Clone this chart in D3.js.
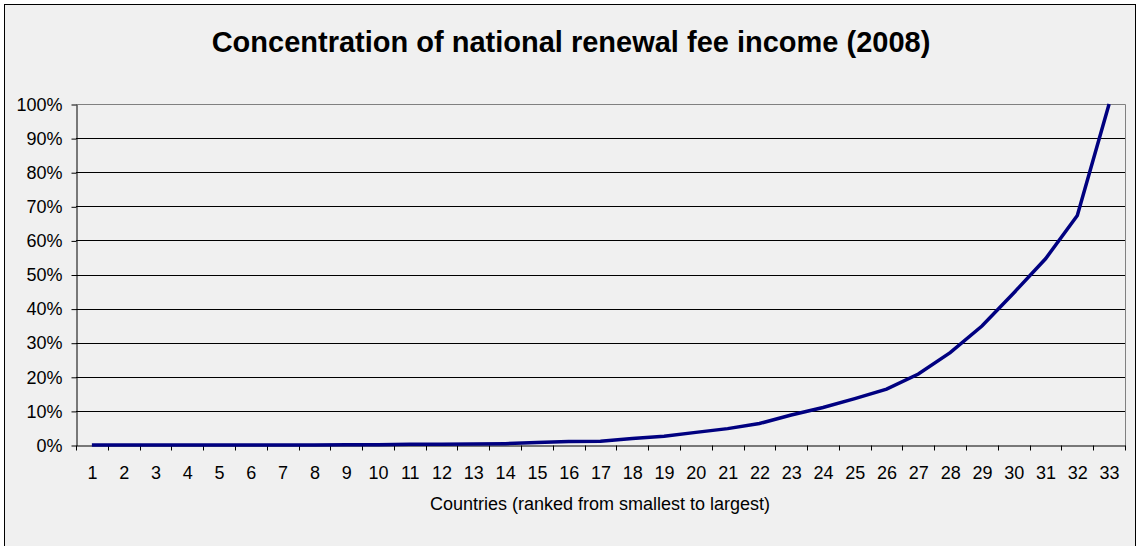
<!DOCTYPE html>
<html>
<head>
<meta charset="utf-8">
<script src="https://cdn.jsdelivr.net/npm/d3@7"></script>
<style>
  body { margin: 0; background: #fff; }
  svg { display: block; font-family: "Liberation Sans", Arial, sans-serif; }
</style>
</head>
<body>
<svg id="chart"></svg>
<script>
const countries = d3.range(1, 34).map(String);
// cumulative share of renewal fee income, in %
const share = [0, 0, 0, 0, 0, 0, 0, 0, 0.05, 0.1, 0.2, 0.25, 0.3, 0.4, 0.7, 1.0, 1.1, 1.9, 2.6, 3.7,
               4.8, 6.3, 8.8, 11.0, 13.6, 16.4, 20.8, 27.1, 34.9, 44.6, 54.6, 67.3, 100];
const yTicks = d3.range(0, 101, 10);

const width = 1138, height = 546;
const margin = { top: 104, right: 13, bottom: 101, left: 76 };

const svg = d3.select("#chart")
    .attr("width", width)
    .attr("height", height);

svg.append("rect")
    .attr("x", 4.5).attr("y", 4.5)
    .attr("width", 1131).attr("height", 560)
    .attr("fill", "#f0f0f0")
    .attr("stroke", "#000")

const x = d3.scaleBand()
    .domain(countries)
    .range([margin.left, width - margin.right])

const y = d3.scaleLinear()
    .domain([0, 100])
    .range([height - margin.bottom, margin.top])

// gridlines
svg.append("g")
    .selectAll("line")
    .data(yTicks.filter(d => d > 0 && d < 100))
    .enter()
    .append("line")
    .attr("x1", margin.left).attr("x2", width - margin.right)
    .attr("y1", d => Math.round(y(d)) + 0.5).attr("y2", d => Math.round(y(d)) + 0.5)
    .attr("stroke", "#000")

// plot frame (top + right are grey)
svg.append("path")
    .attr("d", `M${margin.left},${margin.top + 0.5}H${width - margin.right + 0.5}V${height - margin.bottom}`)
    .attr("fill", "none")
    .attr("stroke", "#808080")

// y axis
const yAxis = svg.append("g")
    .attr("transform", `translate(${margin.left + 0.5},0.5)`)
    .call(d3.axisLeft(y).tickValues(yTicks).tickFormat(d => d + "%").tickSize(5).tickSizeOuter(0).tickPadding(9))
yAxis.select(".domain").attr("stroke", "#000")
yAxis.selectAll("text").attr("font-size", 18).attr("fill", "#000")

// x axis
const xAxis = svg.append("g")
    .attr("transform", `translate(0.5,${height - margin.bottom + 0.5})`)
    .call(d3.axisBottom(x).tickSize(0).tickPadding(21))
xAxis.select(".domain").attr("stroke", "#000")
xAxis.selectAll("text").attr("font-size", 18).attr("fill", "#000")

// tick marks between categories
xAxis.append("g")
    .selectAll("line")
    .data(countries.map(c => x(c)).concat([width - margin.right]))
    .enter()
    .append("line")
    .attr("x1", d => Math.round(d)).attr("x2", d => Math.round(d))
    .attr("y1", 0).attr("y2", 5)
    .attr("stroke", "#000")

// line
const line = d3.line()
    .x((d, i) => x(countries[i]) + x.bandwidth() / 2)
    .y(d => y(d))

svg.append("path")
    .datum(share)
    .attr("d", line)
    .attr("fill", "none")
    .attr("stroke", "#000080")
    .attr("stroke-width", 3.5)

// title
svg.append("text")
    .attr("x", 571).attr("y", 52)
    .attr("text-anchor", "middle")
    .attr("font-size", 29)
    .attr("font-weight", "bold")
    .text("Concentration of national renewal fee income (2008)")

svg.append("text")
    .attr("x", 600).attr("y", 510)
    .attr("text-anchor", "middle")
    .attr("font-size", 18)
    .text("Countries (ranked from smallest to largest)")
</script>
</body>
</html>
